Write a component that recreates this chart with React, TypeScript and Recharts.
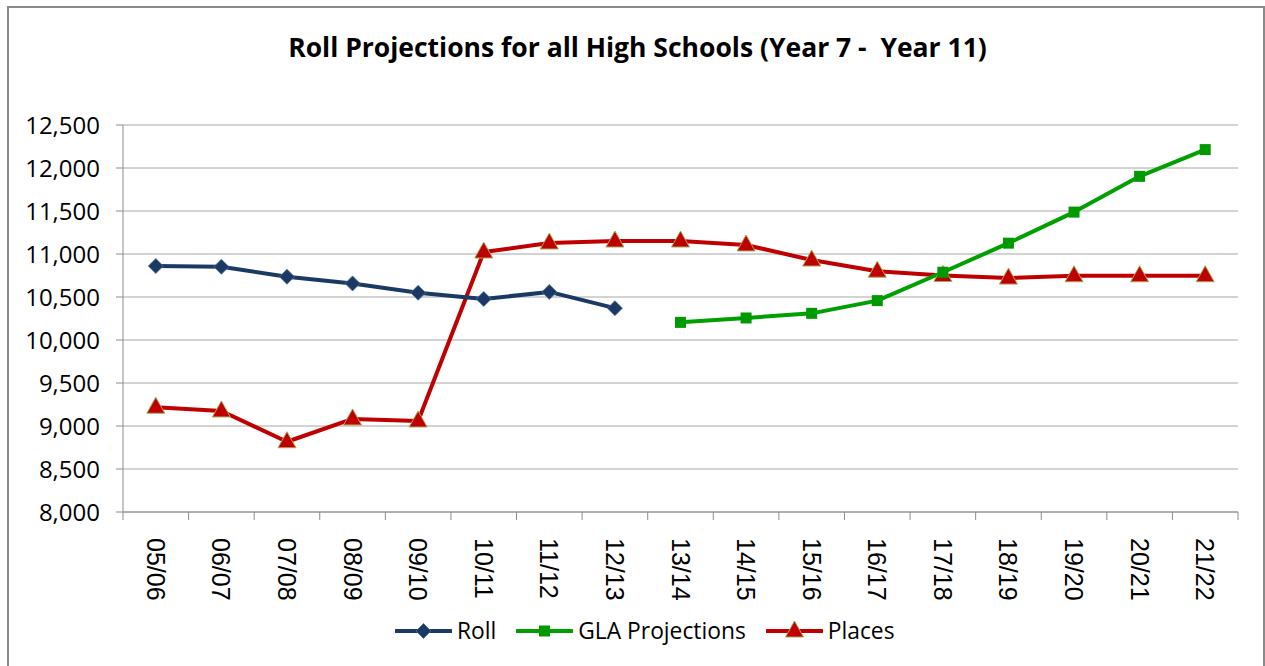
import { LineChart, Line, XAxis, YAxis, CartesianGrid } from 'recharts';

const years = [
	'05/06', '06/07', '07/08', '08/09', '09/10', '10/11', '11/12', '12/13', '13/14',
	'14/15', '15/16', '16/17', '17/18', '18/19', '19/20', '20/21', '21/22',
];
const roll = [10860, 10852, 10736, 10658, 10549, 10477, 10559, 10370, null, null, null, null, null, null, null, null, null];
const glaProjections = [null, null, null, null, null, null, null, null, 10205, 10256, 10310, 10458, 10788, 11126, 11487, 11903, 12214];
const places = [9218, 9175, 8817, 9082, 9058, 11023, 11128, 11151, 11151, 11105, 10930, 10800, 10750, 10720, 10747, 10747, 10747];
const yTicks = [8000, 8500, 9000, 9500, 10000, 10500, 11000, 11500, 12000, 12500];

const data = years.map((year, i) => ({
	year,
	roll: roll[i],
	gla: glaProjections[i],
	places: places[i],
}));

const ROLL = '#1B3A63';
const GLA = '#00A000';
const PLACES = '#C00000';
const AXIS = '#8C8C8C';

const PLOT_W = 1115;
const BAND = PLOT_W / years.length;

const Diamond = ({ cx, cy }: { cx: number; cy: number }) => (
	<path
		d={`M${cx},${cy - 7.5} L${cx + 7.5},${cy} L${cx},${cy + 7.5} L${cx - 7.5},${cy} Z`}
		fill={ROLL}
		stroke='#4F6F9F'
		strokeWidth={0.8}
	/>
);
const Square = ({ cx, cy }: { cx: number; cy: number }) => (
	<rect x={cx - 5.5} y={cy - 5.5} width={11} height={11} fill='#009900' />
);
const Triangle = ({ cx, cy }: { cx: number; cy: number }) => (
	<path
		d={`M${cx},${cy - 10} L${cx + 9},${cy + 6} L${cx - 9},${cy + 6} Z`}
		fill={PLACES}
		stroke='#A8A858'
		strokeWidth={1}
	/>
);

const dotOf = (Shape: any) => (props: any) => {
	const { cx, cy, key, value } = props;
	if (cy == null || value == null) return <g key={key} />;
	return <Shape key={key} cx={cx} cy={cy} />;
};

const XTick = (props: any) => {
	const { x, y, payload, index } = props;
	const last = index === years.length - 1;
	return (
		<g>
			<line x1={x - BAND / 2} x2={x - BAND / 2} y1={y} y2={y + 8} stroke={AXIS} />
			{last && <line x1={x + BAND / 2} x2={x + BAND / 2} y1={y} y2={y + 8} stroke={AXIS} />}
			<text
				x={0}
				y={0}
				transform={`translate(${x},${y + 26}) rotate(90)`}
				textAnchor='start'
				dominantBaseline='central'
				fontFamily='Liberation Sans'
				fontSize={25}
				fill='#000'>
				{payload.value}
			</text>
		</g>
	);
};

const legendItems = [
	{ name: 'Roll', color: ROLL, Shape: Diamond },
	{ name: 'GLA Projections', color: GLA, Shape: Square },
	{ name: 'Places', color: PLACES, Shape: Triangle },
];

const App = () => {
	return (
		<div
			style={{
				position: 'fixed',
				left: 0,
				top: 0,
				width: 1265,
				height: 666,
				overflow: 'hidden',
				background: '#fff',
			}}>
			<div
				style={{
					position: 'absolute',
					left: 7,
					top: 6,
					width: 1254,
					height: 720,
					border: '2px solid #8A8A8A',
				}}
			/>
			<div
				style={{
					position: 'absolute',
					left: 5,
					top: 29,
					width: 1265,
					textAlign: 'center',
					fontFamily: 'Open Sans',
					fontWeight: 700,
					fontSize: 26.5,
					lineHeight: '36px',
					whiteSpace: 'pre',
					color: '#000',
				}}>
				Roll Projections for all High Schools (Year 7 -  Year 11)
			</div>
			<div style={{ position: 'absolute', left: 0, top: 0 }}>
				<LineChart
					width={1265}
					height={666}
					data={data}
					margin={{ top: 125, right: 27, left: 0, bottom: 54 }}>
					<CartesianGrid vertical={false} stroke='#A6A6A6' />
					<XAxis
						dataKey='year'
						interval={0}
						height={100}
						padding={{ left: BAND / 2, right: BAND / 2 }}
						tickLine={false}
						tickSize={0}
						tickMargin={0}
						axisLine={{ stroke: AXIS }}
						tick={<XTick />}
					/>
					<YAxis
						width={123}
						domain={[8000, 12500]}
						ticks={yTicks}
						interval={0}
						tickSize={7}
						tickMargin={16}
						axisLine={{ stroke: AXIS }}
						tickLine={{ stroke: AXIS }}
						tickFormatter={(v: number) => v.toLocaleString('en-US')}
						tick={{ fill: '#000', fontSize: 24, fontFamily: 'Open Sans' }}
					/>
					<Line
						dataKey='places'
						type='linear'
						stroke={PLACES}
						strokeWidth={4}
						strokeLinejoin='round'
						dot={dotOf(Triangle)}
						activeDot={false}
						isAnimationActive={false}
					/>
					<Line
						dataKey='roll'
						type='linear'
						stroke={ROLL}
						strokeWidth={4}
						strokeLinejoin='round'
						dot={dotOf(Diamond)}
						activeDot={false}
						isAnimationActive={false}
					/>
					<Line
						dataKey='gla'
						type='linear'
						stroke={GLA}
						strokeWidth={4}
						strokeLinejoin='round'
						dot={dotOf(Square)}
						activeDot={false}
						isAnimationActive={false}
					/>
				</LineChart>
			</div>
			<div
				style={{
					position: 'absolute',
					left: 395,
					top: 615,
					display: 'flex',
					alignItems: 'center',
					fontFamily: 'Open Sans',
					fontSize: 22.8,
					color: '#000',
				}}>
				{legendItems.map(({ name, color, Shape }) => (
					<div key={name} style={{ display: 'flex', alignItems: 'center', marginRight: 20 }}>
						<svg width={57} height={24}>
							<line x1={1} x2={56} y1={12} y2={12} stroke={color} strokeWidth={4} strokeLinecap='round' />
							<Shape cx={28.5} cy={12} />
						</svg>
						<span style={{ marginLeft: 5 }}>{name}</span>
					</div>
				))}
			</div>
		</div>
	);
};

export default App;
